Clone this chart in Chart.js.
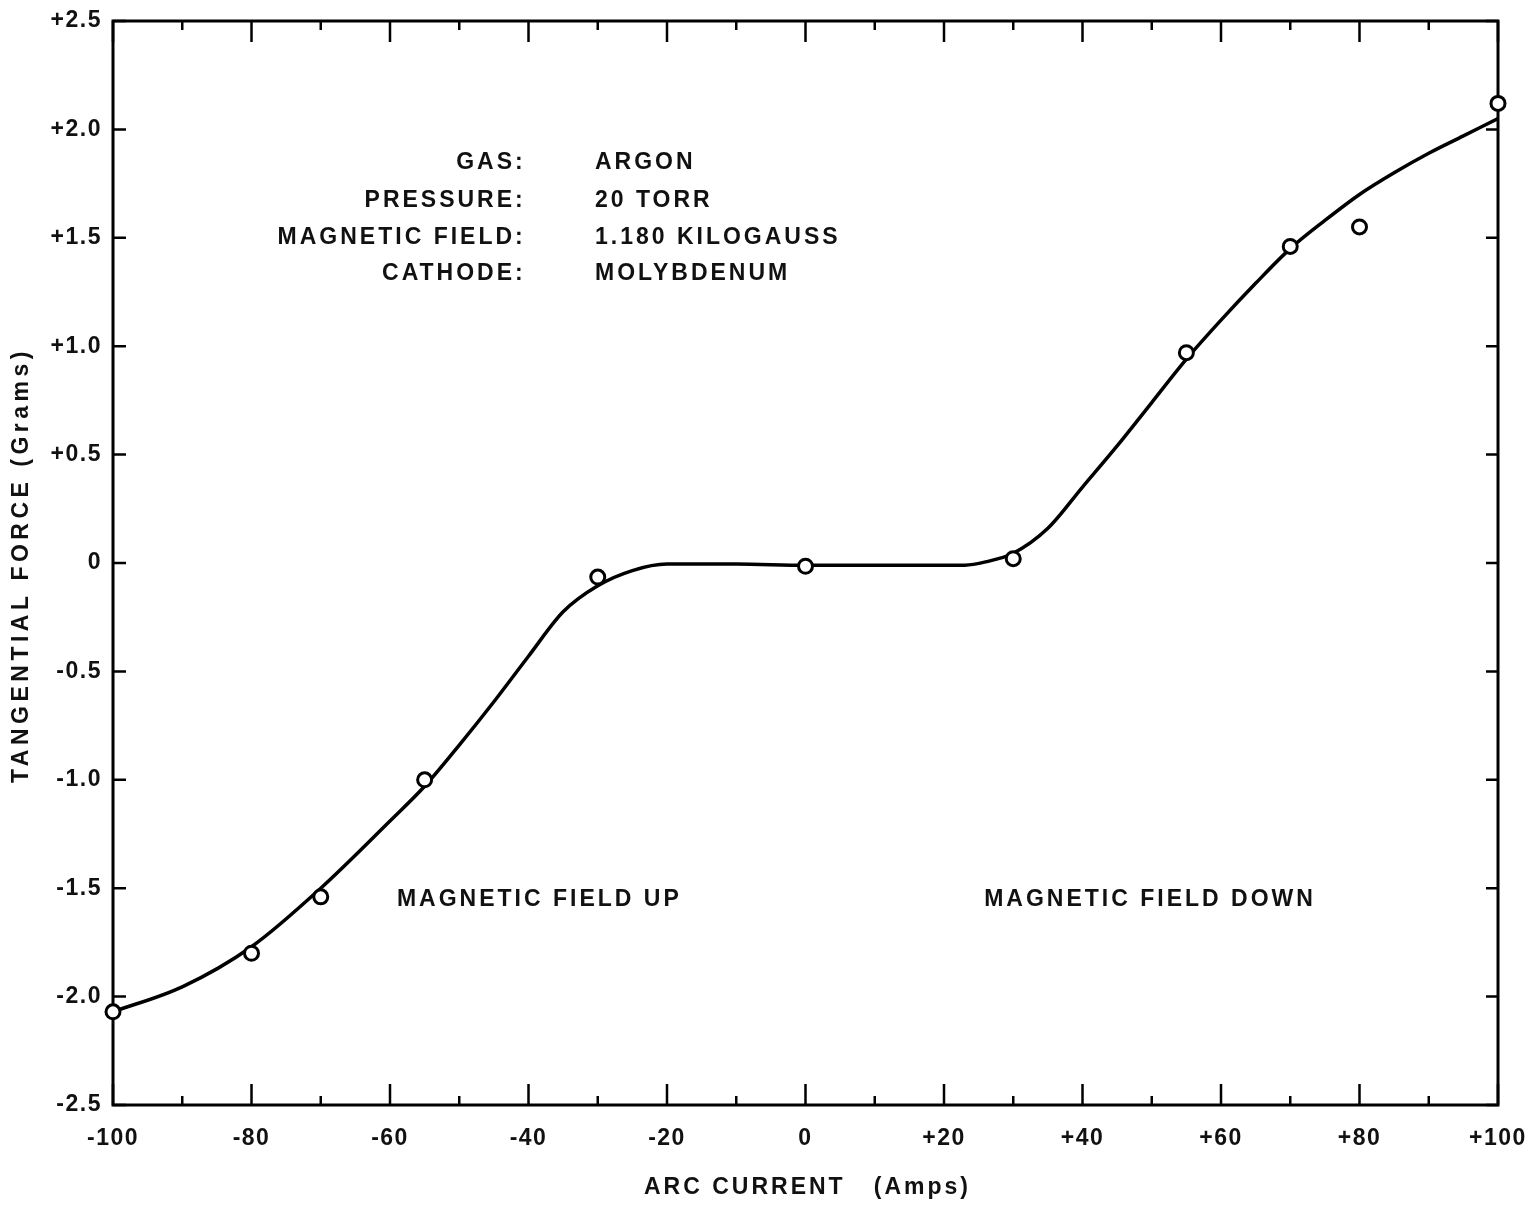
<!DOCTYPE html>
<html>
<head>
<meta charset="utf-8">
<script src="https://cdn.jsdelivr.net/npm/chart.js@4.4.1/dist/chart.umd.min.js"></script>
<style>
  body { margin: 0; background: #fff; }
</style>
</head>
<body>
<canvas id="forceChart" width="1529" height="1208"></canvas>
<script>
// hand-drawn fit curve
const curveCurrent = [-100, -90, -80, -70, -60, -55, -50, -45, -40, -35, -30, -25, -20, -10, 0, 10, 20, 23, 26, 30, 35, 40, 45, 50, 55, 60, 65, 70, 75, 80, 85, 90, 95, 100];
const curveForce = [-2.07, -1.955, -1.77, -1.50, -1.19, -1.03, -0.84, -0.64, -0.43, -0.225, -0.105, -0.035, -0.005, -0.005, -0.01, -0.01, -0.01, -0.01, 0.005, 0.045, 0.16, 0.35, 0.54, 0.74, 0.94, 1.12, 1.29, 1.45, 1.58, 1.70, 1.80, 1.89, 1.97, 2.05];

// measured points (open circles)
const pointCurrent = [-100, -80, -70, -55, -30, 0, 30, 55, 70, 80, 100];
const pointForce = [-2.07, -1.80, -1.54, -1.00, -0.065, -0.015, 0.02, 0.97, 1.46, 1.55, 2.12];

// tick labels
const xTickLabels = ['-100', '-80', '-60', '-40', '-20', '0', '+20', '+40', '+60', '+80', '+100'];
const yTickLabels = ['-2.5', '-2.0', '-1.5', '-1.0', '-0.5', '0', '+0.5', '+1.0', '+1.5', '+2.0', '+2.5'];

// text on the plot
const xTitle = 'ARC CURRENT   (Amps)';
const yTitle = 'TANGENTIAL FORCE (Grams)';
const infoLabels = ['GAS:', 'PRESSURE:', 'MAGNETIC FIELD:', 'CATHODE:'];
const infoValues = ['ARGON', '20 TORR', '1.180 KILOGAUSS', 'MOLYBDENUM'];
const fieldNotes = ['MAGNETIC FIELD UP', 'MAGNETIC FIELD DOWN'];

const FONT = "'Liberation Sans', Arial, sans-serif";
Chart.defaults.font.family = FONT;
Chart.defaults.color = '#111';

// frame + inward tick marks under the data, lettering on top
const frameTicks = {
    id: 'frameTicks',
    beforeDraw(chart) {
        chart.ctx.letterSpacing = '1.5px';
    },
    beforeDatasetsDraw(chart) {
        const { ctx, chartArea: a, scales: { x, y } } = chart;
        ctx.save();
        ctx.strokeStyle = '#000';
        ctx.lineWidth = 3;
        ctx.strokeRect(a.left, a.top, a.right - a.left, a.bottom - a.top);
        ctx.lineWidth = 2.5;
        ctx.beginPath();
        x.ticks.forEach(t => {
            const px = x.getPixelForValue(t.value);
            const len = t.value % 20 === 0 ? 21 : 9;
            ctx.moveTo(px, a.top);
            ctx.lineTo(px, a.top + len);
            ctx.moveTo(px, a.bottom);
            ctx.lineTo(px, a.bottom - len);
        });
        y.ticks.forEach(t => {
            const py = y.getPixelForValue(t.value);
            ctx.moveTo(a.left, py);
            ctx.lineTo(a.left + 13, py);
            ctx.moveTo(a.right, py);
            ctx.lineTo(a.right - 12, py);
        });
        ctx.stroke();
        ctx.restore();
    },
    afterDatasetsDraw(chart) {
        const { ctx, chartArea: a, scales: { x, y } } = chart;
        ctx.save();
        ctx.fillStyle = '#111';
        ctx.font = 'bold 23px ' + FONT;
        ctx.letterSpacing = '3px';
        ctx.textBaseline = 'middle';
        const rows = [1.845, 1.67, 1.50, 1.335];
        infoLabels.forEach((txt, i) => {
            ctx.textAlign = 'right';
            ctx.fillText(txt, x.getPixelForValue(-40.4), y.getPixelForValue(rows[i]));
            ctx.textAlign = 'left';
            ctx.fillText(infoValues[i], x.getPixelForValue(-30.4), y.getPixelForValue(rows[i]));
        });
        ctx.fillText(fieldNotes[0], x.getPixelForValue(-59.0), y.getPixelForValue(-1.555));
        ctx.fillText(fieldNotes[1], x.getPixelForValue(25.8), y.getPixelForValue(-1.555));

        // axis titles
        ctx.textAlign = 'center';
        ctx.fillText(xTitle, (a.left + a.right) / 2 + 2, 1188);
        ctx.letterSpacing = '4.5px';
        ctx.translate(22, (a.top + a.bottom) / 2 + 2);
        ctx.rotate(-Math.PI / 2);
        ctx.fillText(yTitle, 0, 0);
        ctx.restore();
    }
};

const ctx = document.getElementById('forceChart').getContext('2d');
const chart = new Chart(ctx, {
    type: 'line',
    data: {
        datasets: [{
            type: 'scatter',
            data: pointCurrent.map((v, i) => ({ x: v, y: pointForce[i] })),
            pointRadius: 7,
            pointBorderWidth: 3,
            pointBorderColor: '#000',
            pointBackgroundColor: '#fff',
            showLine: false,
            clip: false,
            order: 0
        }, {
            data: curveCurrent.map((v, i) => ({ x: v, y: curveForce[i] })),
            borderColor: '#000',
            borderWidth: 3.5,
            pointRadius: 0,
            fill: false,
            cubicInterpolationMode: 'monotone',
            order: 1
        }]
    },
    options: {
        responsive: false,
        animation: false,
        devicePixelRatio: 1,
        layout: { padding: { top: 21, right: 31, left: 0, bottom: 0 } },
        plugins: {
            legend: { display: false },
            tooltip: { enabled: false }
        },
        scales: {
            x: {
                type: 'linear',
                min: -100,
                max: 100,
                grid: { display: false, drawTicks: false },
                border: { display: false },
                afterFit: s => { s.height = 103; s.paddingLeft = 0; s.paddingRight = 0; },
                ticks: {
                    stepSize: 10,
                    autoSkip: false,
                    maxRotation: 0,
                    padding: 20,
                    font: { size: 23, weight: 'bold' },
                    callback: v => v % 20 === 0 ? xTickLabels[(v + 100) / 20] : ''
                }
            },
            y: {
                min: -2.5,
                max: 2.5,
                grid: { display: false, drawTicks: false },
                border: { display: false },
                afterFit: s => { s.width = 113; s.paddingTop = 0; s.paddingBottom = 0; },
                ticks: {
                    stepSize: 0.5,
                    padding: 11,
                    font: { size: 23, weight: 'bold' },
                    callback: v => yTickLabels[Math.round((v + 2.5) * 2)]
                }
            }
        }
    },
    plugins: [frameTicks]
});
</script>
</body>
</html>
